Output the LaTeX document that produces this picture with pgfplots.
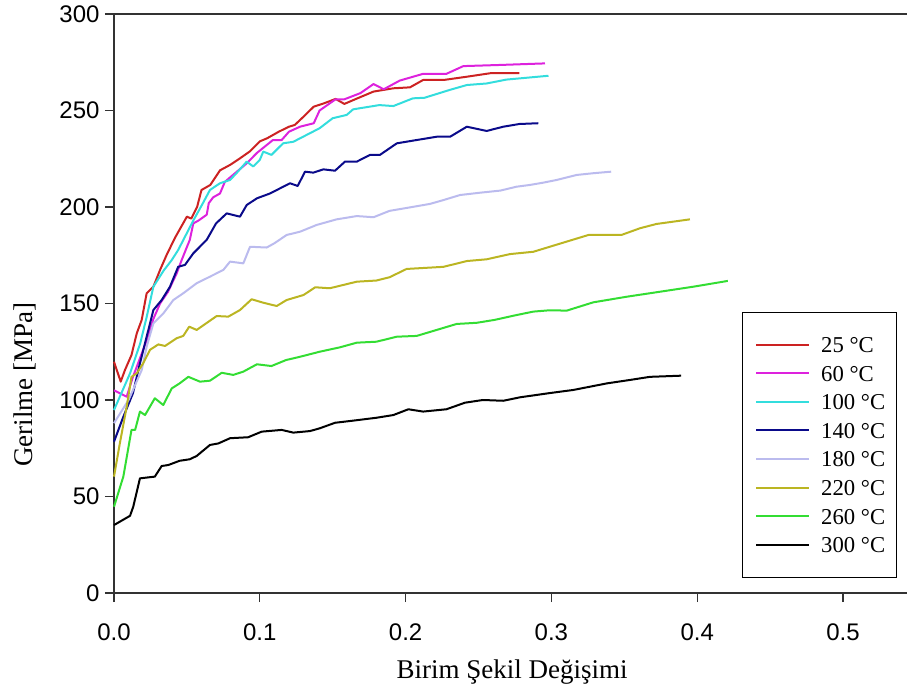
\documentclass[border=0pt]{standalone}
\usepackage{fontspec}
\setmainfont{Liberation Serif}
\setsansfont{Liberation Sans}
\usepackage{pgfplots}
\pgfplotsset{compat=1.18}
\definecolor{c25}{HTML}{CC2222}
\definecolor{c60}{HTML}{DD22DD}
\definecolor{c100}{HTML}{33DDDD}
\definecolor{c140}{HTML}{0A0A8A}
\definecolor{c180}{HTML}{BBBBEE}
\definecolor{c220}{HTML}{BBB522}
\definecolor{c260}{HTML}{33DD33}
\definecolor{c300}{HTML}{000000}
\begin{document}
\begin{tikzpicture}[x=1pt,y=1pt]
\useasboundingbox (0,0) rectangle (907,693);
\begin{axis}[
  at={(114pt,100pt)}, anchor=south west,
  width=793pt, height=579pt, scale only axis,
  xmin=0, xmax=0.5439, ymin=0, ymax=300,
  clip=false,
  axis x line*=bottom, axis y line*=left,
  axis line style={black!80, line width=1.2pt},
  tick align=outside, major tick length=9pt,
  tick style={black!80, line width=1.2pt},
  xtick={0,0.1,0.2,0.3,0.4,0.5}, ytick={0,50,100,150,200,250,300},
  /pgf/number format/assume math mode=true,
  xticklabel={\pgfmathprintnumber[fixed,fixed zerofill,precision=1]{\tick}},
  tick label style={font=\sffamily\fontsize{24}{28}\selectfont},
  xticklabel style={yshift=-18pt},
  yticklabel style={xshift=-2pt},
  xlabel={Birim Şekil Değişimi},
  ylabel={Gerilme [MPa]},
  every axis x label/.style={at={(rel axis cs:0.502,-0.136)}, anchor=center, font=\fontsize{27}{32}\selectfont},
  every axis y label/.style={at={(rel axis cs:-0.112,0.36)}, anchor=center, rotate=90, font=\fontsize{27}{32}\selectfont},
  legend style={at={(rel axis cs:0.7916,0.4858)}, anchor=north west, draw=black, line width=1pt,
    font=\fontsize{22.7}{27}\selectfont, inner xsep=5pt, inner ysep=18pt, row sep=0pt, column sep=5pt,
    nodes={text height=16pt, text depth=0pt, inner ysep=6.3pt, inner xsep=6pt}},
  legend cell align=left,
  legend image code/.code={\path (0pt,0pt) (61pt,0pt); \draw[#1, line width=2pt] (8pt,0pt) -- (61pt,0pt);},
  every axis plot/.append style={line width=2pt, line join=round},
]
\addplot[c25] coordinates {(0,119.8) (0.0046,109.5) (0.0075,115.5) (0.012,123.3) (0.0156,134.5) (0.019,141.5) (0.0224,155.3) (0.027,158.7) (0.0316,167.4) (0.036,175) (0.0418,184) (0.05,195) (0.053,194) (0.057,200) (0.060,208.8) (0.066,211.4) (0.0727,219) (0.0796,221.8) (0.086,225) (0.093,228.7) (0.100,234) (0.105,235.6) (0.113,239) (0.12,241.6) (0.124,242.5) (0.13,246.8) (0.137,252) (0.1436,253.6) (0.152,256) (0.158,253.4) (0.166,256) (0.178,259.8) (0.1916,261.5) (0.203,262) (0.212,265.8) (0.226,265.8) (0.242,267.5) (0.258,269.3) (0.278,269.3)};
\addlegendentry{25 °C}
\addplot[c60] coordinates {(0,105) (0.0087,101.7) (0.013,112) (0.022,130) (0.027,142) (0.0316,150) (0.037,156) (0.043,165.6) (0.0464,172.5) (0.052,183) (0.0544,191.5) (0.058,193) (0.0636,196) (0.065,202) (0.068,205) (0.0727,207) (0.076,213) (0.083,217.5) (0.091,222.6) (0.098,228) (0.109,234.7) (0.115,234.7) (0.12,239) (0.1276,241.6) (0.137,243.4) (0.141,250) (0.148,253.7) (0.152,255.8) (0.158,255.8) (0.169,259) (0.178,263.7) (0.185,261) (0.196,265.5) (0.212,269) (0.228,269) (0.2396,273) (0.265,273.6) (0.2956,274.4)};
\addlegendentry{60 °C}
\addplot[c100] coordinates {(0,94.8) (0.004,101.7) (0.011,113.8) (0.018,129.4) (0.0224,143) (0.027,158.7) (0.034,167) (0.0396,172.5) (0.044,177.7) (0.0544,193) (0.061,202) (0.0658,208.8) (0.0727,212.3) (0.0796,214) (0.084,217.5) (0.091,223.5) (0.0955,221) (0.1,224.4) (0.1024,228.7) (0.108,227) (0.116,233) (0.123,233.8) (0.132,237.3) (0.141,240.8) (0.150,246) (0.1596,247.7) (0.164,250.6) (0.182,252.8) (0.1916,252.3) (0.205,256.3) (0.213,256.6) (0.230,260.6) (0.242,263.2) (0.2556,264) (0.269,266) (0.298,268)};
\addlegendentry{100 °C}
\addplot[c140] coordinates {(0,78.4) (0.0064,91.3) (0.013,103.5) (0.0178,119) (0.0224,132.8) (0.027,146.6) (0.0327,151.8) (0.0384,158.7) (0.044,169) (0.0487,170) (0.0544,176) (0.0636,183) (0.070,191.5) (0.0773,196.7) (0.0864,195) (0.091,201) (0.098,204.5) (0.107,207) (0.1207,212.3) (0.126,210.9) (0.131,218.3) (0.1367,217.8) (0.1436,219.5) (0.1516,218.8) (0.1584,223.5) (0.1665,223.5) (0.1756,227) (0.1824,227) (0.194,233) (0.2076,234.7) (0.2213,236.4) (0.2305,236.4) (0.242,241.6) (0.2556,239.4) (0.267,241.6) (0.278,243) (0.291,243.4)};
\addlegendentry{140 °C}
\addplot[c180] coordinates {(0,88) (0.01,100) (0.019,115.5) (0.0224,127.6) (0.027,139.7) (0.034,145) (0.0407,151.8) (0.0475,155.3) (0.0567,160.5) (0.0658,163.9) (0.075,167.4) (0.0796,171.7) (0.0887,170.8) (0.0933,179.4) (0.1047,179) (0.110,181.2) (0.1184,185.5) (0.1276,187.2) (0.139,190.7) (0.1527,193.6) (0.1665,195.3) (0.178,194.7) (0.189,198) (0.203,199.8) (0.2167,201.6) (0.226,203.6) (0.2373,206.2) (0.251,207.4) (0.265,208.5) (0.276,210.5) (0.285,211.4) (0.2936,212.5) (0.3036,214) (0.3173,216.6) (0.3287,217.5) (0.341,218.3)};
\addlegendentry{180 °C}
\addplot[c220] coordinates {(0,60.3) (0.004,77.5) (0.0087,96.5) (0.012,112) (0.0156,113.8) (0.020,119) (0.0247,126) (0.0304,128.8) (0.035,128) (0.043,132) (0.0475,133.2) (0.0516,138) (0.0567,136.3) (0.0704,143.5) (0.0784,143.2) (0.0864,146.6) (0.0944,152.2) (0.1024,150.4) (0.1116,148.7) (0.1184,151.8) (0.13,154.4) (0.138,158.4) (0.148,157.9) (0.1665,161.3) (0.180,161.9) (0.189,163.6) (0.2007,167.9) (0.226,169) (0.242,172) (0.2556,172.9) (0.2716,175.6) (0.2876,176.8) (0.308,181.5) (0.3254,185.5) (0.348,185.5) (0.3608,189) (0.372,191.2) (0.395,193.6)};
\addlegendentry{220 °C}
\addplot[c260] coordinates {(0,44.7) (0.0064,60.3) (0.012,84.5) (0.0145,84.5) (0.0178,94) (0.0213,92.2) (0.028,100.9) (0.0338,97.4) (0.0396,106) (0.045,108.6) (0.051,112) (0.059,109.5) (0.0658,110) (0.0739,114.1) (0.0818,113) (0.0887,114.7) (0.098,118.5) (0.108,117.6) (0.118,120.7) (0.1276,122.4) (0.141,125) (0.155,127.3) (0.1665,129.7) (0.180,130.2) (0.194,132.8) (0.2076,133.2) (0.2213,136.3) (0.235,139.4) (0.2488,140) (0.261,141.5) (0.276,144) (0.2876,145.8) (0.299,146.5) (0.3105,146.3) (0.3287,150.6) (0.3516,153.5) (0.3745,156.1) (0.3973,158.7) (0.421,161.7)};
\addlegendentry{260 °C}
\addplot[c300] coordinates {(0,35.2) (0.011,40) (0.0132,44.7) (0.0178,59.4) (0.028,60.3) (0.0327,65.8) (0.0372,66.3) (0.045,68.5) (0.052,69.3) (0.0567,71) (0.0658,76.7) (0.0716,77.5) (0.0796,80.2) (0.092,80.7) (0.1013,83.6) (0.115,84.5) (0.123,83.1) (0.1344,83.9) (0.141,85.3) (0.1516,88.2) (0.164,89.3) (0.180,90.8) (0.1916,92.2) (0.2019,95.2) (0.212,94) (0.228,95.2) (0.2407,98.6) (0.253,100) (0.267,99.6) (0.2785,101.4) (0.299,103.6) (0.315,105.2) (0.338,108.6) (0.354,110.4) (0.3676,112) (0.389,112.6)};
\addlegendentry{300 °C}
\draw[black!80, line width=1.2pt] (rel axis cs:0,1) -- (rel axis cs:1,1);
\end{axis}
\end{tikzpicture}
\end{document}
